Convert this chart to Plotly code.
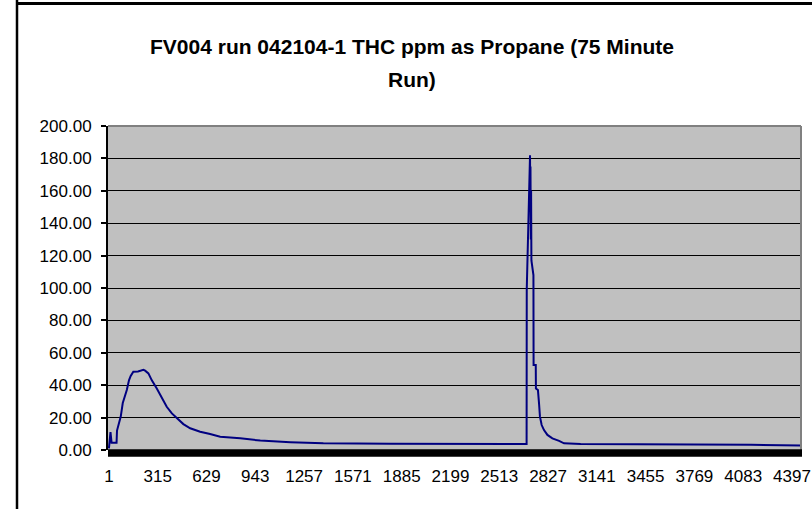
import plotly.graph_objects as go

# ---- data (sample index, THC ppm as propane) ----
sample_idx = [1, 11, 18, 50, 53, 61, 77, 90, 105, 116, 130, 141, 158, 188, 223, 234,
              255, 277, 309, 330, 351, 373, 406, 438, 480, 524, 588, 652, 717, 846,
              975, 1168, 1381, 1813, 2689,
              2690, 2711, 2713, 2714, 2716, 2718, 2720, 2733, 2734, 2748, 2749, 2762,
              2769, 2775, 2786, 2801, 2823, 2855, 2898, 2930, 3037, 3811, 4133, 4455]
thc_ppm = [1.0, 11.0, 4.5, 4.5, 12.0, 15.0, 20.6, 29.0, 33.0, 37.0, 43.0, 45.7, 48.3, 48.5,
           49.5, 49.0, 47.3, 43.0, 38.0, 34.0, 30.9, 26.7, 22.6, 19.5, 16.0, 13.4, 11.3,
           9.9, 8.2, 7.2, 5.8, 4.8, 4.1, 3.9, 3.7,
           99.0, 182.0, 150.0, 175.0, 130.0, 160.0, 117.0, 108.0, 52.5, 52.5, 38.0, 37.0,
           28.8, 20.6, 15.4, 12.3, 9.3, 7.2, 5.6, 4.1, 3.7, 3.5, 3.2, 2.8]

x_tick_vals = [1, 315, 629, 943, 1257, 1571, 1885, 2199, 2513, 2827, 3141, 3455, 3769, 4083, 4397]
x_tick_text = [str(v) for v in x_tick_vals]
y_tick_vals = [0, 20, 40, 60, 80, 100, 120, 140, 160, 180, 200]

title_line1 = "FV004 run 042104-1 THC ppm as Propane (75 Minute"
title_line2 = "Run)"

W, H = 812, 509
L, R, T, B = 108, 11, 126, 59
pw, ph = W - L - R, H - T - B

def px_x(p):
    return (p - L) / pw

def px_y(p):
    return (H - B - p) / ph

font = "Liberation Sans, Arial, sans-serif"

fig = go.Figure()
fig.add_trace(go.Scatter(
    x=sample_idx, y=thc_ppm, mode="lines",
    line=dict(color="#000080", width=2),
    showlegend=False, hoverinfo="skip",
))

fig.update_layout(
    width=W, height=H, autosize=False,
    margin=dict(l=L, r=R, t=T, b=B, pad=0),
    paper_bgcolor="white", plot_bgcolor="#C0C0C0",
    font=dict(family=font, size=17, color="black"),
    xaxis=dict(
        range=[-5, 4455], showgrid=False, zeroline=False, showline=False,
        tickmode="array", tickvals=x_tick_vals, ticktext=x_tick_text,
        ticks="", ticklabelstandoff=14, automargin=False,
        tickfont=dict(family=font, size=17, color="black"),
    ),
    yaxis=dict(
        range=[0, 200], tickmode="array", tickvals=y_tick_vals,
        tickformat=".2f", showgrid=True, gridcolor="black", gridwidth=1,
        zeroline=False, showline=True, linecolor="black", linewidth=2,
        ticks="outside", ticklen=5, tickwidth=1.5, tickcolor="black",
        ticklabelstandoff=6, automargin=False,
        tickfont=dict(family=font, size=17, color="black"),
    ),
    shapes=[
        # outer chart frame (left and top edges visible)
        dict(type="line", xref="paper", yref="paper",
             x0=px_x(17), x1=px_x(17), y0=px_y(520), y1=px_y(0),
             line=dict(color="black", width=2.5), layer="above"),
        dict(type="line", xref="paper", yref="paper",
             x0=px_x(16), x1=px_x(830), y0=px_y(3.5), y1=px_y(3.5),
             line=dict(color="black", width=3), layer="above"),
        # plot-area top and right border (gray)
        dict(type="line", xref="paper", yref="paper", x0=0, x1=1, y0=1, y1=1,
             line=dict(color="#808080", width=2), layer="above"),
        dict(type="line", xref="paper", yref="paper", x0=1, x1=1, y0=0, y1=1,
             line=dict(color="#808080", width=2), layer="above"),
        # dense category tick band along the x axis
        dict(type="rect", xref="paper", yref="paper",
             x0=0, x1=px_x(802), y0=px_y(456.7), y1=px_y(449.3),
             fillcolor="black", line=dict(width=0), layer="above"),
    ],
    annotations=[
        dict(text="<b>%s</b>" % title_line1, xref="paper", yref="paper",
             x=px_x(412), y=px_y(46), xanchor="center", yanchor="middle",
             showarrow=False, font=dict(family=font, size=21, color="black")),
        dict(text="<b>%s</b>" % title_line2, xref="paper", yref="paper",
             x=px_x(412), y=px_y(79), xanchor="center", yanchor="middle",
             showarrow=False, font=dict(family=font, size=21, color="black")),
    ],
)

fig.write_html("out.html", config={"displayModeBar": False},
               post_script="document.body.style.margin='0px';document.body.style.overflow='hidden';")
